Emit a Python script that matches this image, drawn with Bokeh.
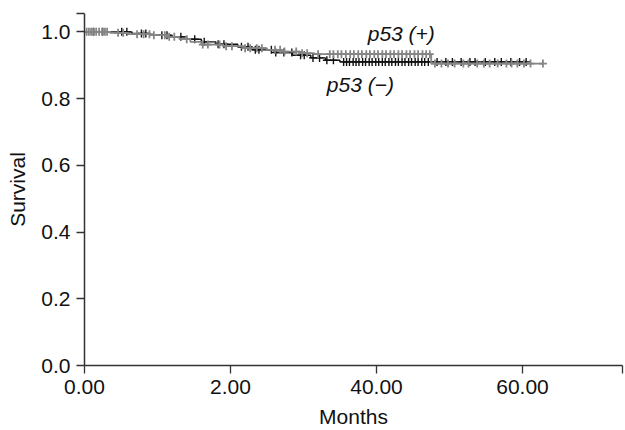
import numpy as np
from bokeh.plotting import figure
from bokeh.models import FixedTicker
from bokeh.core.properties import value
from bokeh.embed import file_html
from bokeh.resources import INLINE

# ---- data ----
neg_times = [0.0, 6.5, 9.0, 12.0, 14.0, 16.0, 18.0, 21.0, 23.0, 26.0, 28.5, 31.0, 33.0, 35.0]
neg_surv = [1.0, 0.995, 0.99, 0.985, 0.978, 0.97, 0.963, 0.955, 0.946, 0.938, 0.93, 0.922, 0.915, 0.91]
neg_end = 60.5
neg_censor = [1.2, 2.5, 5.1, 5.8, 7.8, 8.4, 10.6, 11.3, 13.2, 15.1, 16.4, 18.3, 19.1, 21.5, 22.4,
              23.4, 23.9, 25.6, 26.2, 27.3, 28.4, 29.6, 30.1, 31.3, 32.2, 33.2, 34.1, 35.5, 35.9,
              36.3, 36.8, 37.2, 37.6, 38.1, 38.5, 39.0, 39.4, 39.9, 40.3, 40.8, 41.2, 41.7, 42.1,
              42.6, 43.0, 43.5, 43.9, 44.4, 44.8, 45.3, 45.7, 46.2, 46.6, 47.1, 48.3, 49.5, 50.4,
              51.6, 52.8, 53.5, 54.9, 56.2, 57.1, 58.4, 59.6, 60.5]

pos_times = [0.0, 3.5, 6.0, 9.0, 11.5, 13.0, 14.5, 16.0, 19.0, 22.0, 25.0, 27.0, 29.5, 31.5, 47.5]
pos_surv = [1.0, 0.997, 0.993, 0.99, 0.985, 0.978, 0.97, 0.962, 0.957, 0.951, 0.946, 0.941,
            0.936, 0.933, 0.905]
pos_end = 62.8
pos_censor = [0.3, 0.6, 0.9, 1.3, 1.6, 2.0, 2.4, 2.8, 3.1, 4.6, 5.3, 7.2, 8.1, 8.9, 9.5, 11.0, 11.6,
              12.3, 14.0, 16.2, 16.9, 18.5, 19.4, 20.2, 22.0, 22.7, 23.6, 24.3, 26.1, 26.8, 27.4,
              29.0, 29.8, 30.5, 32.0, 33.6, 34.1, 34.7, 35.2, 35.8, 36.4, 36.9, 37.5, 38.0, 38.6,
              39.1, 39.7, 40.2, 40.8, 41.3, 41.9, 42.4, 43.0, 43.5, 44.1, 44.6, 45.2, 45.7, 46.3,
              46.8, 47.3, 48.0, 48.9, 49.8, 50.7, 51.9, 52.6, 53.8, 54.7, 55.5, 56.6, 57.8, 58.5,
              59.3, 60.2, 61.1, 62.8]

x_ticks = [0, 20, 40, 60]
x_tick_labels = ["0.00", "2.00", "40.00", "60.00"]
y_ticks = [0.0, 0.2, 0.4, 0.6, 0.8, 1.0]
y_tick_labels = ["0.0", "0.2", "0.4", "0.6", "0.8", "1.0"]
x_max = 73.7
y_max = 1.055

labels = ["p53 (+)", "p53 (\u2212)"]
label_x = [38.8, 33.2]
label_y = [0.994, 0.842]

FONT = "Liberation Sans"
FS = "21px"
BLACK = "#111111"
GRAY = "#858585"


def step_source(times, surv, end):
    xs = list(times) + [end]
    ys = list(surv) + [surv[-1]]
    return xs, ys


def censor_y(times, surv, cens):
    t = np.array(times)
    s = np.array(surv)
    idx = np.searchsorted(t, np.array(cens), side="right") - 1
    return list(s[idx])


p = figure(width=625, height=430, output_backend="svg", toolbar_location=None,
           x_range=(0, x_max), y_range=(0, y_max),
           min_border_left=84, min_border_right=3, min_border_top=13, min_border_bottom=64)
p.outline_line_color = None
p.grid.visible = False
p.background_fill_color = "white"
p.border_fill_color = "white"

nx, ny = step_source(neg_times, neg_surv, neg_end)
px_, py_ = step_source(pos_times, pos_surv, pos_end)

p.step(nx, ny, mode="after", line_color=BLACK, line_width=1.4)
p.scatter(neg_censor, censor_y(neg_times, neg_surv, neg_censor), marker="cross", size=8,
          line_color=BLACK, line_width=1.4)
p.step(px_, py_, mode="after", line_color=GRAY, line_width=1.8)
p.scatter(pos_censor, censor_y(pos_times, pos_surv, pos_censor), marker="cross", size=8,
          line_color=GRAY, line_width=1.8)

p.text(x=label_x, y=label_y, text=labels, text_font=value(FONT), text_font_style="italic",
       text_font_size=FS, text_color="#111111", text_baseline="middle", text_align="left")

AX = "#333333"
p.xaxis.ticker = FixedTicker(ticks=x_ticks + [x_max])
p.xaxis.major_label_overrides = {**{t: l for t, l in zip(x_ticks, x_tick_labels)}, x_max: ""}
p.yaxis.ticker = FixedTicker(ticks=y_ticks + [y_max])
p.yaxis.major_label_overrides = {**{t: l for t, l in zip(y_ticks, y_tick_labels)}, y_max: ""}
for ax in (p.xaxis[0], p.yaxis[0]):
    ax.axis_line_color = AX
    ax.axis_line_width = 1.5
    ax.major_tick_line_color = AX
    ax.major_tick_line_width = 1.3
    ax.major_tick_out = 8
    ax.major_tick_in = 0
    ax.minor_tick_line_color = None
    ax.major_label_text_font = FONT
    ax.major_label_text_font_size = FS
    ax.major_label_text_color = "#111111"
    ax.axis_label_text_font = FONT
    ax.axis_label_text_font_size = FS
    ax.axis_label_text_font_style = "normal"
    ax.axis_label_text_color = "#111111"
p.xaxis.axis_label = "Months"
p.yaxis.axis_label = "Survival"
p.xaxis.major_label_standoff = 6
p.yaxis.major_label_standoff = 6
p.xaxis.axis_label_standoff = 8
p.yaxis.axis_label_standoff = 9

open("out.html", "w").write(file_html(p, INLINE))
